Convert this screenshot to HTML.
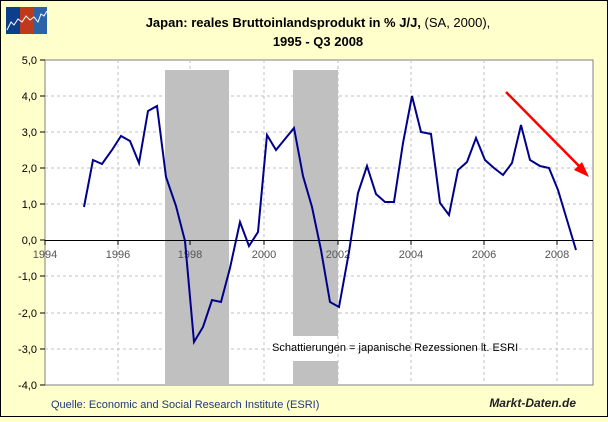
<!DOCTYPE html>
<html><head><meta charset="utf-8"><style>
html,body{margin:0;padding:0;background:#ffffcc;}
</style></head><body>
<svg width="608" height="417" xmlns="http://www.w3.org/2000/svg" font-family="Liberation Sans, Arial, sans-serif">
<rect x="0.5" y="0.5" width="607" height="416" fill="#ffffcc" stroke="#000" stroke-width="1"/>
<!-- logo -->
<rect x="6" y="7" width="14" height="27" fill="#0b3f8c"/>
<rect x="20" y="7" width="14" height="27" fill="#c0391b"/>
<rect x="34" y="7" width="13" height="27" fill="#2b62a8"/>
<polyline points="7,30 11,22 14,25 18,19 22,22 26,16 30,20 34,17 38,22 41,14 44,16 47,11" fill="none" stroke="#fff" stroke-width="1"/>
<text x="318" y="27" font-size="13" font-weight="bold" text-anchor="middle">Japan: reales Bruttoinlandsprodukt in % J/J, <tspan font-weight="normal">(SA, 2000),</tspan></text>
<text x="318" y="46" font-size="13" font-weight="bold" text-anchor="middle">1995 - Q3 2008</text>
<rect x="45" y="60" width="548" height="325" fill="#fff" stroke="#808080"/>
<g stroke="#c0c0c0" stroke-dasharray="3,3" stroke-width="1">
<line x1="45" y1="96" x2="593" y2="96"/><line x1="45" y1="132" x2="593" y2="132"/><line x1="45" y1="168" x2="593" y2="168"/><line x1="45" y1="204" x2="593" y2="204"/><line x1="45" y1="276" x2="593" y2="276"/><line x1="45" y1="313" x2="593" y2="313"/><line x1="45" y1="349" x2="593" y2="349"/>
<line x1="118" y1="60" x2="118" y2="385"/><line x1="190" y1="60" x2="190" y2="385"/><line x1="264" y1="60" x2="264" y2="385"/><line x1="338" y1="60" x2="338" y2="385"/><line x1="411" y1="60" x2="411" y2="385"/><line x1="484" y1="60" x2="484" y2="385"/><line x1="557" y1="60" x2="557" y2="385"/>
</g>
<rect x="165" y="70" width="64" height="315" fill="#c0c0c0"/>
<rect x="293" y="70" width="45" height="266" fill="#c0c0c0"/>
<rect x="293" y="361" width="45" height="24" fill="#c0c0c0"/>
<line x1="45" y1="240.5" x2="593" y2="240.5" stroke="#000"/>
<g stroke="#000"><line x1="45" y1="240" x2="45" y2="245"/><line x1="118" y1="240" x2="118" y2="245"/><line x1="190" y1="240" x2="190" y2="245"/><line x1="264" y1="240" x2="264" y2="245"/><line x1="338" y1="240" x2="338" y2="245"/><line x1="411" y1="240" x2="411" y2="245"/><line x1="484" y1="240" x2="484" y2="245"/><line x1="557" y1="240" x2="557" y2="245"/>
<line x1="40" y1="60" x2="45" y2="60"/><line x1="40" y1="96" x2="45" y2="96"/><line x1="40" y1="132" x2="45" y2="132"/><line x1="40" y1="168" x2="45" y2="168"/><line x1="40" y1="204" x2="45" y2="204"/><line x1="40" y1="240" x2="45" y2="240"/><line x1="40" y1="276" x2="45" y2="276"/><line x1="40" y1="313" x2="45" y2="313"/><line x1="40" y1="349" x2="45" y2="349"/><line x1="40" y1="385" x2="45" y2="385"/></g>
<g font-size="11" text-anchor="end"><text x="37" y="64">5,0</text><text x="37" y="100">4,0</text><text x="37" y="136">3,0</text><text x="37" y="172">2,0</text><text x="37" y="208">1,0</text><text x="37" y="244">0,0</text><text x="37" y="280">-1,0</text><text x="37" y="317">-2,0</text><text x="37" y="353">-3,0</text><text x="37" y="389">-4,0</text></g>
<g font-size="11" fill="#555" text-anchor="middle"><text x="45" y="258">1994</text><text x="118" y="258">1996</text><text x="190" y="258">1998</text><text x="264" y="258">2000</text><text x="338" y="258">2002</text><text x="411" y="258">2004</text><text x="484" y="258">2006</text><text x="557" y="258">2008</text></g>
<polyline fill="none" stroke="#00008b" stroke-width="2" points="84,207 93,160 102,164 112,150 121,136 130,141 139,163 148,111 157,106 166,177 176,206 185,241 194,342 203,327 212,300 221,302 230,268 240,222 249,246 258,232 267,135 276,150 285,139 294,128 303,176 312,207 321,250 330,302 339,307 349,252 358,193 367,166 376,194 385,202 394,202 403,143 412,96 421,132 431,134 440,203 449,215 458,170 467,162 476,138 485,160 494,168 503,175 512,163 521,125 530,160 540,166 549,168 558,190 567,220 576,250"/>
<line x1="506" y1="92" x2="581" y2="168" stroke="#ff0000" stroke-width="2.5"/>
<polygon points="589,177 574,170 582,162" fill="#ff0000"/>
<text x="272" y="351" font-size="11">Schattierungen = japanische Rezessionen lt. ESRI</text>
<text x="51" y="408" font-size="11" fill="#1f3a7a">Quelle:  Economic and Social Research Institute  (ESRI)</text>
<text x="576" y="407" font-size="12" font-weight="bold" font-style="italic" text-anchor="end" fill="#222">Markt-Daten.de</text>
</svg>
</body></html>
